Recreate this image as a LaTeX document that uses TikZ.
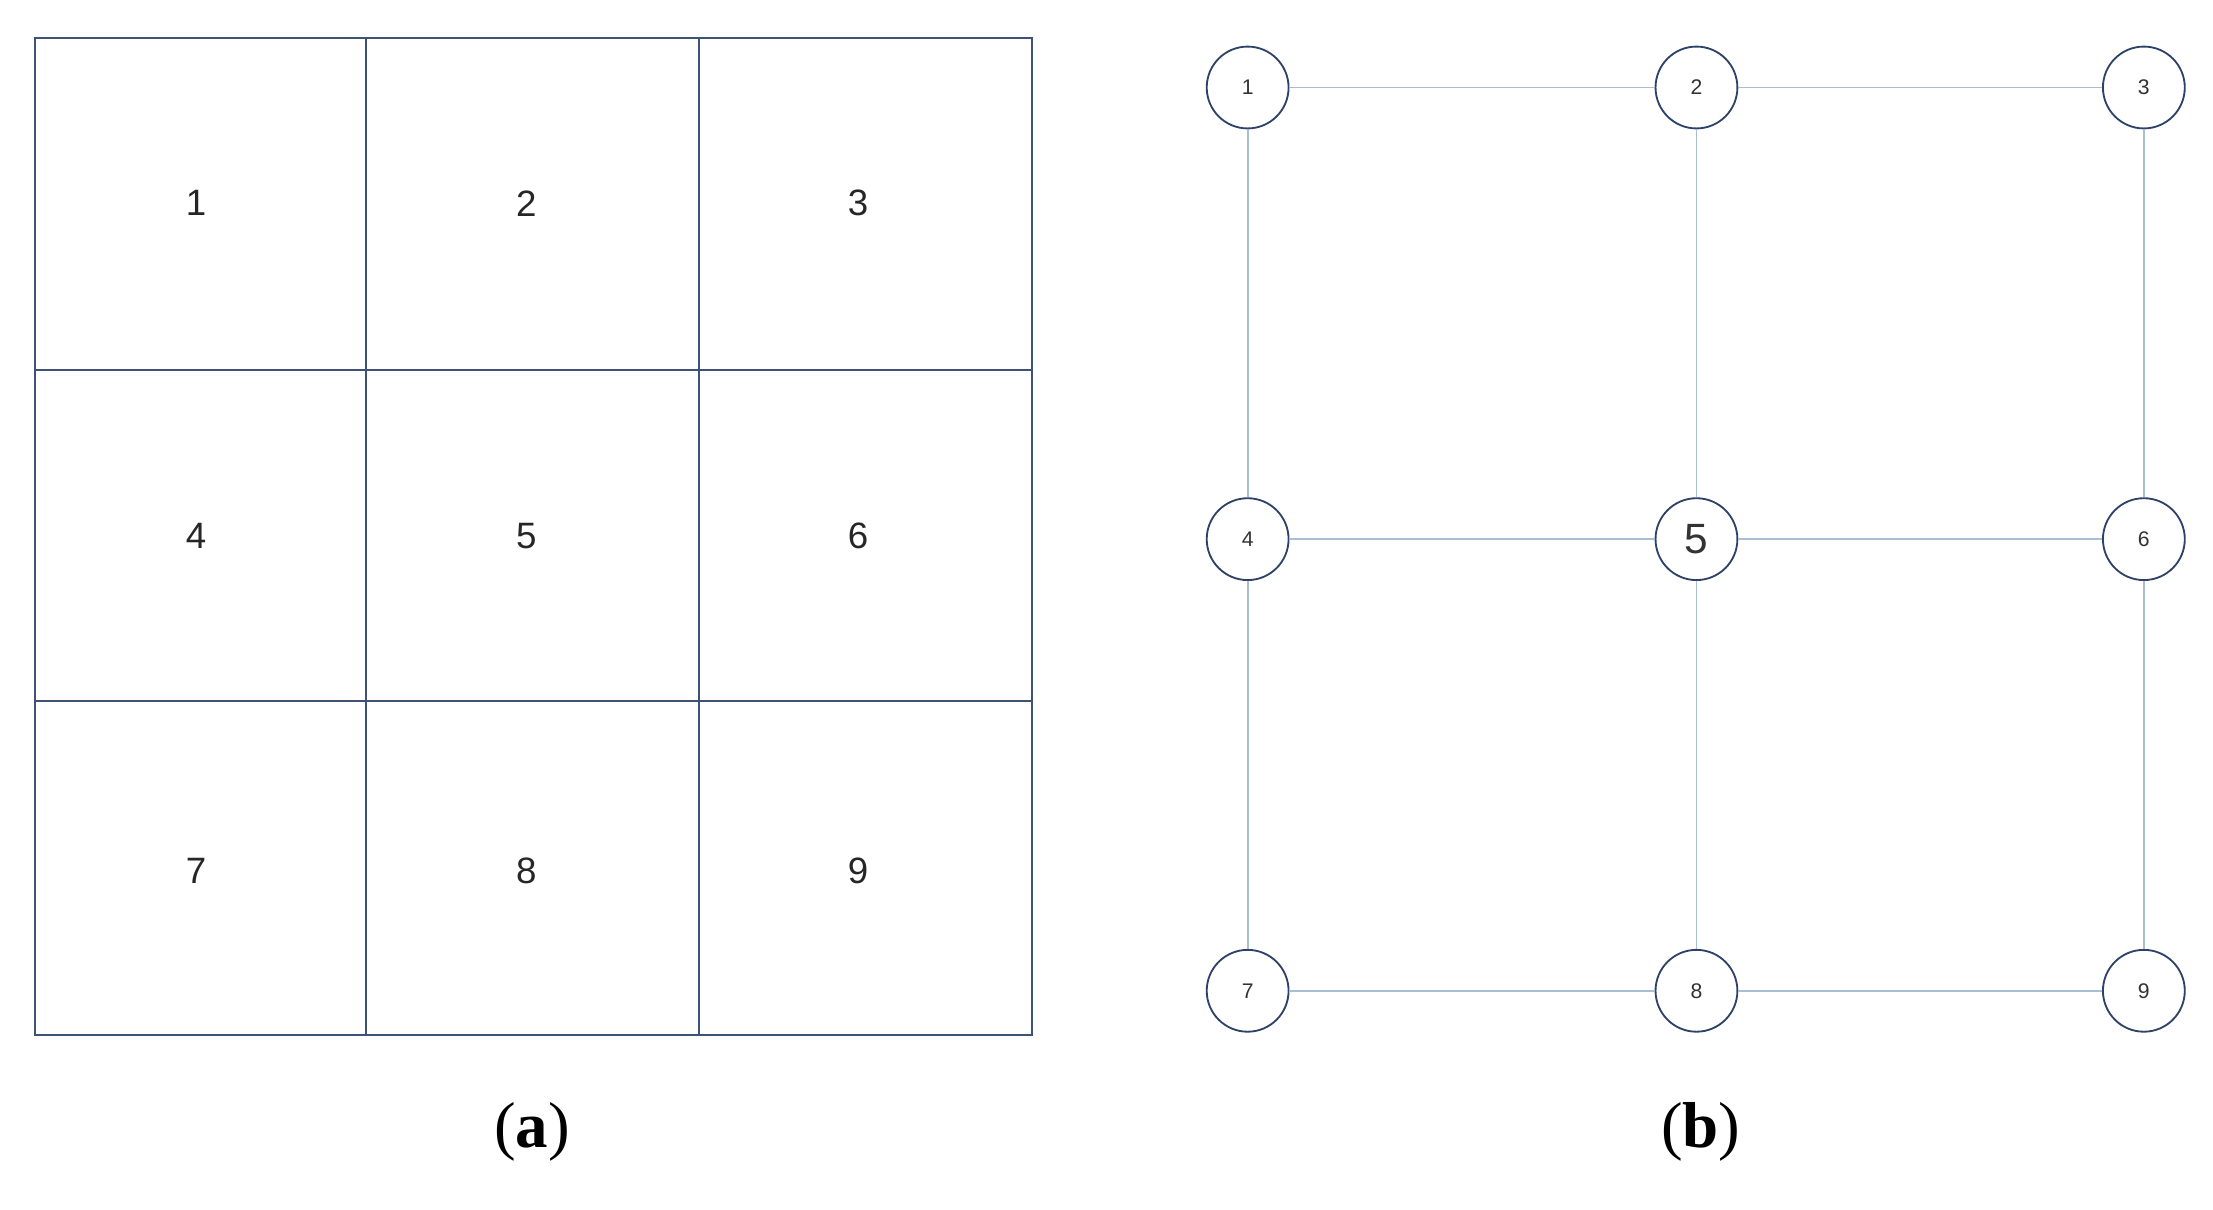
\documentclass[tikz,border=0pt]{standalone}
\usepackage{fontspec}
\setmainfont{Liberation Serif}
\newfontfamily\lbl{Liberation Sans}
\definecolor{gridc}{HTML}{3E5276}
\definecolor{edgec}{HTML}{A9BDD6}
\definecolor{circc}{HTML}{2E4268}
\begin{document}
\begin{tikzpicture}[x=1pt,y=-1pt,
  cellnum/.style={font=\lbl\fontsize{26}{26}\selectfont,text=black!85},
  vtx/.style={circle,draw=circc,line width=1.3pt,minimum size=58pt,inner sep=0pt,fill=white,font=\lbl\fontsize{15}{15}\selectfont,text=black!80},
  edge/.style={draw=edgec,line width=1.3pt},
  captext/.style={font=\fontsize{46}{46}\selectfont}]
\useasboundingbox (0,0) rectangle (1568,857);
\draw[gridc,line width=1.4pt] (25,27) rectangle (731,733);
\draw[gridc,line width=1.4pt] (259,27) -- (259,733) (495,27) -- (495,733) (25,262) -- (731,262) (25,497) -- (731,497);
\foreach \n/\x/\y in {1/139/144,2/373/144,3/608/144,4/139/380,5/373/380,6/608/380,7/139/617,8/373/617,9/608/617}
  \node[cellnum] (c\n) at (\x,\y) {\n};
\node[vtx] (v1) at (884,62) {1};
\node[vtx] (v2) at (1202,62) {2};
\node[vtx] (v3) at (1519,62) {3};
\node[vtx] (v4) at (884,382) {4};
\node[vtx,font=\lbl\fontsize{30}{30}\selectfont] (v5) at (1202,382) {5};
\node[vtx] (v6) at (1519,382) {6};
\node[vtx] (v7) at (884,702) {7};
\node[vtx] (v8) at (1202,702) {8};
\node[vtx] (v9) at (1519,702) {9};
\foreach \a/\b in {v1/v2,v2/v3,v4/v5,v5/v6,v7/v8,v8/v9,v1/v4,v4/v7,v2/v5,v5/v8,v3/v6,v6/v9}
  \draw[edge] (\a) -- (\b);
\node[captext] (ca) at (377,802) {(\textbf{a})};
\node[captext] (cb) at (1205,802) {(\textbf{b})};
\end{tikzpicture}
\end{document}
